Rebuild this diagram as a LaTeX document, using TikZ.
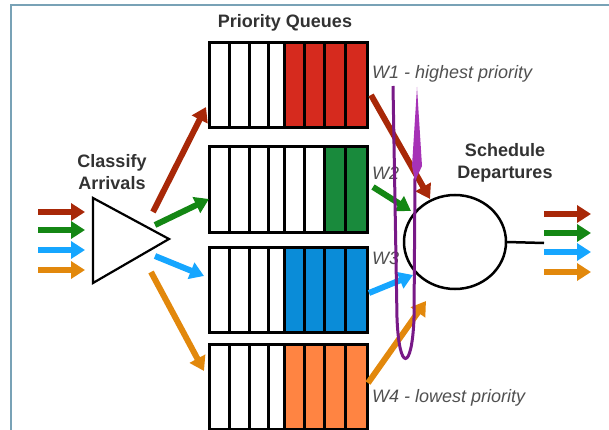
\documentclass[tikz,border=0pt]{standalone}
\usepackage{fontspec}
\setmainfont{Liberation Sans}
\usepackage{tikz}
\usepackage{tkz-euclide}
\usepackage{xcolor}
\usetikzlibrary{arrows.meta}

\definecolor{arrred}{RGB}{168,40,8}
\definecolor{arrgreen}{RGB}{20,135,20}
\definecolor{arrblue}{RGB}{22,166,255}
\definecolor{arrorange}{RGB}{226,136,12}
\definecolor{qred}{RGB}{214,42,30}
\definecolor{qgreen}{RGB}{25,138,60}
\definecolor{qblue}{RGB}{10,140,216}
\definecolor{qorange}{RGB}{255,132,66}
\definecolor{headgray}{RGB}{50,50,50}
\definecolor{wgray}{RGB}{80,80,80}
\definecolor{framecol}{RGB}{120,162,182}
\definecolor{loopdark}{RGB}{120,25,135}
\definecolor{looplight}{RGB}{166,50,182}

\tikzset{
  pktflow/.style={line width=6pt,-{Triangle[length=14pt,width=17pt]}},
  qcell/.style={draw=black,line width=3pt},
  head/.style={font=\bfseries\fontsize{18}{22}\selectfont,text=headgray,align=center},
  wlabel/.style={font=\itshape\fontsize{18}{22}\selectfont,text=wgray,anchor=west,inner sep=0pt},
}

\begin{document}
\begin{tikzpicture}[x=1pt,y=-1pt]
    \useasboundingbox (0,0) rectangle (609,430);
    \draw[framecol,line width=2pt] (10.5,430) -- (10.5,5.5) -- (609,5.5);
    \foreach \t/\n/\c in {43/4/qred,147/2/qgreen,247/4/qblue,344/4/qorange}{
      \pgfmathtruncatemacro\first{8-\n}
      \foreach \a/\b [count=\k from 0] in {209/229,229/249,249/268,268/284,284/304,304/324,324/345,345/367}{
        \ifnum\k<\first
          \draw[qcell,fill=white] (\a,\t) rectangle (\b,\t+85);
        \else
          \draw[qcell,fill=\c] (\a,\t) rectangle (\b,\t+85);
        \fi
      }
    }
    \node[head] (pq) at (285,23) {Priority Queues};
    \node[head] (cls) at (112,172) {Classify\\Arrivals};
    \node[head] (sch) at (505,163) {Schedule\\Departures};
    \node[wlabel] (w1) at (372,74) {W1 - highest priority};
    \node[wlabel] (w2) at (372,173) {W2};
    \node[wlabel] (w3) at (372,258) {W3};
    \node[wlabel] (w4) at (372,398) {W4 - lowest priority};
    \tkzDefPoints{93/198/T1,93/283/T2,169/239/T3,455/242/S,507/242/S1,544/243/E}
    \tkzDefPoints{38/212/A1,85/212/B1,38/230/A2,85/230/B2,38/250/A3,85/250/B3,38/270/A4,85/270/B4}
    \tkzDefPoints{544/214/F1,591/214/G1,544/233/F2,591/233/G2,544/252/F3,591/252/G3,544/272/F4,591/272/G4}
    \tkzDefPoints{153/212/C1,206/107/K1,155/225/C2,209/199/K2,155/256/C3,204/276/K3,151/272/C4,204/371/K4}
    \tkzDefPoints{371/95/D1,430/199/Q1,373/187/D2,411/211/Q2,369/293/D3,413/275/Q3,368/383/D4,426/301/Q4}
    \tkzDefPoints{393/86/P1,397/318/P2,414/318/P3,415/178/P4,417/87/V1,422/166/V2,415/181/V3,412/166/V4}
    \draw[line width=2.2pt] (T1) -- (T2) -- (T3) -- cycle;
    \foreach \i/\c in {1/arrred,2/arrgreen,3/arrblue,4/arrorange}{
      \draw[pktflow,\c] (A\i) -- (B\i);
      \draw[pktflow,\c] (F\i) -- (G\i);
      \draw[pktflow,\c] (C\i) -- (K\i);
      \draw[pktflow,\c] (D\i) -- (Q\i);
    }
    \draw[line width=2.5pt] (S) ellipse [x radius=51,y radius=47];
    \draw[line width=2.5pt] (S1) -- (E);
    \draw[loopdark,line width=3pt] (P1) -- (P2) .. controls (399,372) and (412,372) .. (P3) -- (P4);
    \fill[looplight] (V1) -- (V2) -- (V3) -- (V4) -- cycle;
\end{tikzpicture}
\end{document}
